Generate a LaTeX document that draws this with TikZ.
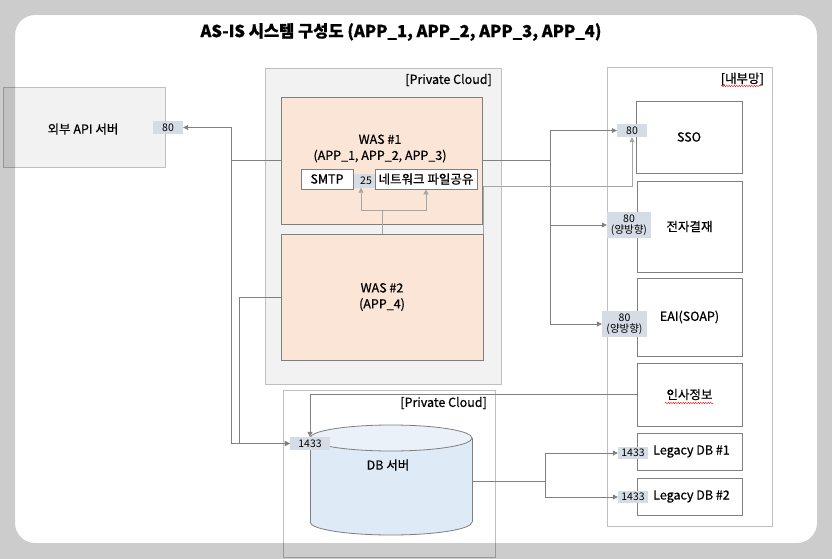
\documentclass[tikz,border=0pt]{standalone}
\usepackage{fontspec}
\setmainfont{Noto Sans CJK KR}[FakeBold=0.6]
\newfontfamily\portfont{Noto Sans CJK KR}
\usetikzlibrary{arrows.meta,decorations.pathmorphing}
\definecolor{boxfill}{RGB}{242,242,242}
\definecolor{boxline}{RGB}{191,191,191}
\definecolor{wasfill}{RGB}{251,229,214}
\definecolor{darkline}{RGB}{127,127,127}
\definecolor{portfill}{RGB}{214,220,229}
\definecolor{linkgray}{RGB}{128,128,128}
\definecolor{lightlink}{RGB}{166,166,166}
\definecolor{dbbody}{RGB}{222,234,246}
\definecolor{dbtop}{RGB}{234,241,249}
\begin{document}
\begin{tikzpicture}[x=1pt,y=-1pt,
	cloud/.style={draw=boxline,line width=0.8pt,inner sep=0pt},
	srv/.style={draw=darkline,line width=0.8pt,inner sep=0pt,align=center,font=\fontsize{12.5}{16}\selectfont},
	port/.style={fill=portfill,inner sep=0pt,align=center,font=\portfont\fontsize{10.5}{11.5}\selectfont},
	tag/.style={anchor=east,inner sep=0pt,font=\fontsize{12.5}{14}\selectfont},
	link/.style={draw=linkgray,line width=0.8pt,-{Triangle[length=5pt,width=5pt]}},
	link2/.style={link,draw=lightlink},
	squig/.style={draw=red,line width=0.4pt,decorate,decoration={snake,amplitude=0.7pt,segment length=2.5pt}}]
	\fill[white] (0,0) rectangle (832,559);
	\node[font=\bfseries\fontsize{16.5}{18}\selectfont] (title) at (401,32) {AS-IS 시스템 구성도 (APP\_1, APP\_2, APP\_3, APP\_4)};
	\node[cloud,fill=boxfill,minimum width=162,minimum height=80] (api) at (84,127) {};
	\node[font=\fontsize{12.5}{14}\selectfont] (apitxt) at (83,129) {외부 API 서버};
	\node[port,minimum width=30,minimum height=13] (api80) at (168,127.5) {80};
	\node[cloud,fill=boxfill,minimum width=236,minimum height=316] (pc1) at (383,226) {};
	\node[tag] (pc1tag) at (492,80) {[Private Cloud]};
	\node[srv,fill=wasfill,minimum width=201,minimum height=127] (was1) at (381.5,160.5) {};
	\node[align=center,font=\fontsize{12.5}{16}\selectfont] (was1txt) at (380,148.5) {WAS \#1\\(APP\_1, APP\_2, APP\_3)};
	\node[port,minimum width=28,minimum height=14] (p25) at (361,180.5) {\hspace*{10pt}25};
	\node[srv,fill=white,minimum width=52,minimum height=20] (smtp) at (327,179) {SMTP};
	\node[srv,fill=white,minimum width=102,minimum height=20] (nfs) at (426,179) {네트워크 파일공유};
	\node[srv,fill=wasfill,minimum width=202,minimum height=126] (was2) at (382,297) {WAS \#2\\(APP\_4)};
	\node[cloud,fill=white,minimum width=165,minimum height=459] (inner) at (689.5,296.5) {};
	\node[tag] (innertag) at (764,79) {[내부망]};
	\node[srv,minimum width=106,minimum height=72] (sso) at (689,137) {SSO};
	\node[port,minimum width=30,minimum height=13] (sso80) at (632,130.5) {80};
	\node[srv,minimum width=105,minimum height=91] (pay) at (689.5,226.5) {전자결재};
	\node[port,minimum width=44,minimum height=26] (pay80) at (629,225) {80\\(양방향)};
	\node[srv,minimum width=105,minimum height=78] (eai) at (689.5,317) {EAI(SOAP)};
	\node[port,minimum width=45,minimum height=26] (eai80) at (624.5,324) {80\\(양방향)};
	\node[srv,minimum width=105,minimum height=63] (hr) at (689.5,394.5) {인사정보};
	\node[srv,minimum width=105,minimum height=37] (leg1) at (689.5,451.5) {\hspace*{4pt}Legacy DB \#1};
	\node[port,minimum width=30,minimum height=12] (leg1p) at (633,453) {1433};
	\node[srv,minimum width=105,minimum height=37] (leg2) at (689.5,496.5) {\hspace*{4pt}Legacy DB \#2};
	\node[port,minimum width=30,minimum height=12] (leg2p) at (633,497) {1433};
	\draw[squig] (721,86) -- (761,86);
	\draw[squig] (665,403) -- (713,403);
	\node[cloud,minimum width=212,minimum height=167] (pc2) at (389,473.5) {};
	\node[tag] (pc2tag) at (487,403) {[Private Cloud]};
	\fill[dbbody] (310,438) rectangle (472,522);
	\fill[dbbody] (391,522) ellipse (81 and 13);
	\begin{scope}
	\clip (300,522) rectangle (480,540);
	\draw[darkline,line width=0.8pt] (391,522) ellipse (81 and 13);
	\end{scope}
	\draw[darkline,line width=0.8pt] (310,438) -- (310,522) (472,438) -- (472,522);
	\draw[darkline,line width=0.8pt,fill=dbtop] (391,438) ellipse (81 and 13);
	\coordinate (dbe) at (472,481);
	\node[font=\fontsize{12.5}{14}\selectfont] (dbtxt) at (388,465) {DB 서버};
	\node[port,minimum width=40,minimum height=13] (db1433) at (310,443.5) {1433};
	\draw[link] (was1.west) -- ++(-49,0) |- (api80.east);
	\draw[link] (was1.west) -- ++(-49,0) |- (db1433.west);
	\draw[link] (was2.west) -- ++(-41,0) |- (db1433.west);
	\draw[link2] (was2.north) -- ++(0,-23) -| (p25.south);
	\draw[link2] (was2.north) -- ++(0,-23) -| (nfs.south);
	\draw[link2] (was2.north east) -- ++(0,-47) -| (sso80.south);
	\draw[link] (was1.east) -- ++(68,0) |- (sso80.west);
	\draw[link] (was1.east) -- ++(68,0) |- (pay80.west);
	\draw[link] (was1.east) -- ++(68,0) |- (eai80.west);
	\draw[link] (hr.west) -| (db1433.north);
	\draw[link] (dbe) -- ++(73,0) |- (leg1p.west);
	\draw[link] (dbe) -- ++(73,0) |- (leg2p.west);
	\fill[black,opacity=0.2,even odd rule] (0,0) rectangle (832,559) {[rounded corners=20pt] (15,15) rectangle (817,543)};
\end{tikzpicture}
\end{document}
